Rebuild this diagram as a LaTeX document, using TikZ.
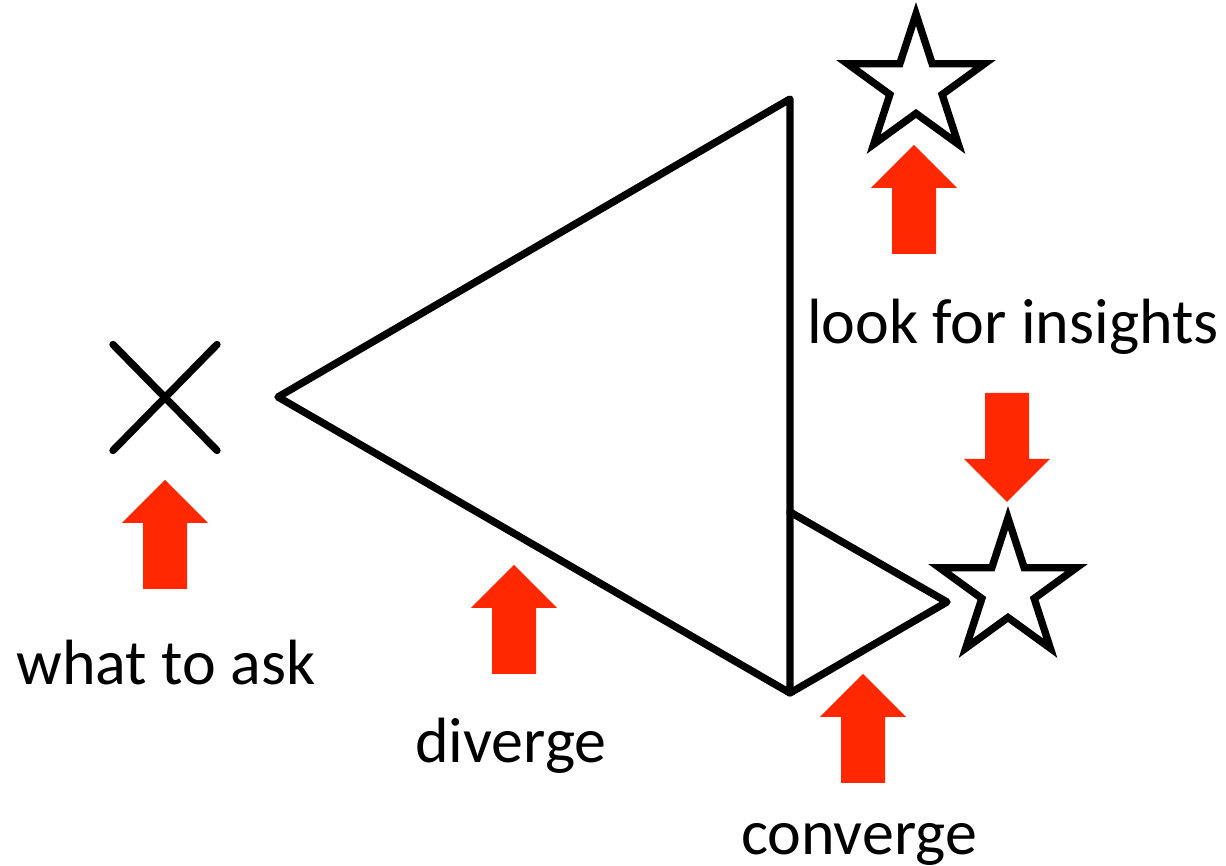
\documentclass[tikz,border=0pt]{standalone}
\usepackage{fontspec}
\setmainfont{Carlito}
\usepackage{tikz}
\usetikzlibrary{shapes.geometric, calc}

\definecolor{arrowred}{RGB}{255,40,0}
\tikzset{
  outline/.style={line width=2.1pt, line join=round, line cap=round},
  starmark/.style={star, star points=5, star point ratio=2.618, minimum size=1.44cm,
    inner sep=0pt, draw, line width=2.1pt, line join=miter},
  label/.style={font=\fontsize{18.2}{22}\selectfont, anchor=base, inner sep=0pt},
  bigarrow/.pic={
    \fill[arrowred] (-0.22,0) -- (-0.22,0.66) -- (-0.43,0.66) -- (0,1.09)
      -- (0.43,0.66) -- (0.22,0.66) -- (0.22,0) -- cycle;
  }
}

\begin{document}
\begin{tikzpicture}
  \useasboundingbox (0,0) rectangle (12.26,8.66);

  % the question mark (cross)
  \coordinate (ask) at (1.65,4.685);
  \draw[outline] ($(ask)+(-0.52,0.53)$) -- ($(ask)+(0.52,-0.53)$);
  \draw[outline] ($(ask)+(-0.52,-0.53)$) -- ($(ask)+(0.52,0.53)$);

  % diverge / converge triangles
  \coordinate (apex) at (2.78,4.69);
  \coordinate (top) at (7.90,7.67);
  \coordinate (bottom) at (7.90,1.73);
  \coordinate (mid) at (7.90,3.54);
  \coordinate (tip) at (9.47,2.64);
  \draw[outline] (apex) -- (top) -- (bottom) -- cycle;
  \draw[outline] (mid) -- (tip) -- (bottom);

  % insights
  \node[starmark] (star1) at (9.16,7.80) {};
  \node[starmark] (star2) at (10.08,2.76) {};

  % red arrows
  \pic at (1.65,2.77) {bigarrow};
  \pic at (5.14,1.92) {bigarrow};
  \pic at (8.63,0.83) {bigarrow};
  \pic at (9.14,6.12) {bigarrow};
  \pic[rotate=180] at (10.07,4.73) {bigarrow};

  % labels
  \node[label] (whatlbl) at (1.66,1.81) {what to ask};
  \node[label] (divlbl) at (5.11,1.03) {diverge};
  \node[label] (convlbl) at (8.59,0.11) {converge};
  \node[label] (looklbl) at (10.13,5.22) {look for insights};
\end{tikzpicture}
\end{document}
